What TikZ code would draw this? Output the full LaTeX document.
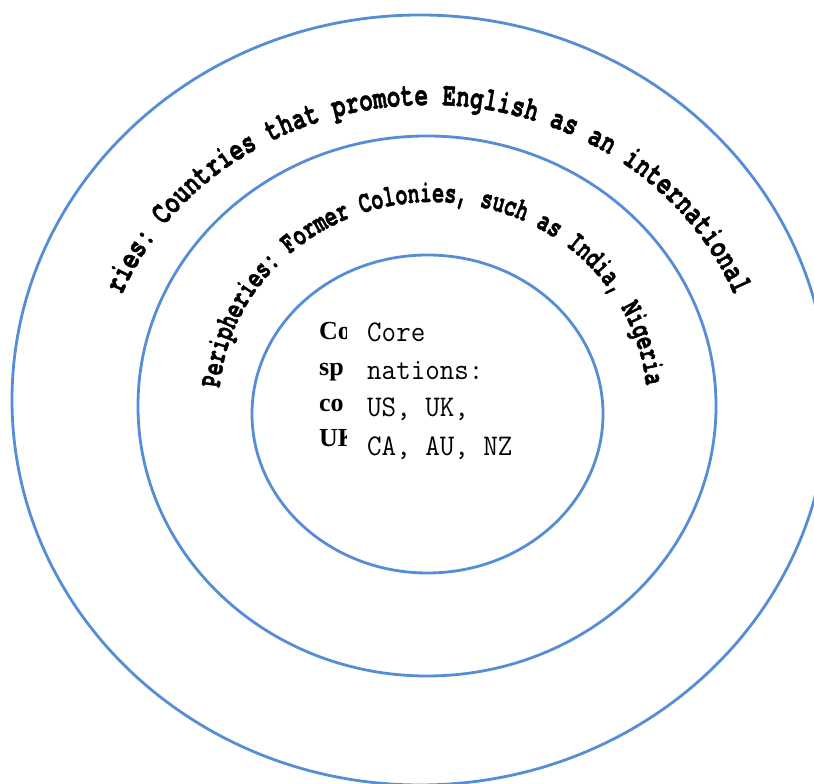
\documentclass[tikz,border=0pt]{standalone}
\usepackage{fontspec}
\setmainfont{Liberation Serif}
\newfontfamily\arcfontA{texgyrecursor-bold.otf}[FakeStretch=0.68,FakeBold=1.2]
\newfontfamily\arcfontB{texgyrecursor-bold.otf}[FakeStretch=0.64,FakeBold=1.2]
\newfontfamily\corefont{Latin Modern Mono}[FakeStretch=0.94]
\usetikzlibrary{decorations.text}
\definecolor{ringblue}{RGB}{86,142,213}
\tikzset{
  ring/.style={draw=ringblue, line width=2.8pt},
  coretext/.style={anchor=base west, inner sep=0pt, font=\corefont\fontsize{30pt}{30pt}\selectfont},
  hiddentext/.style={anchor=base west, inner sep=0pt, font=\bfseries\fontsize{26pt}{26pt}\selectfont},
}
\begin{document}
\begin{tikzpicture}[x=1pt,y=1pt]
\useasboundingbox (0,0) rectangle (814,784);
\clip (0,0) rectangle (814,784);
\fill[white] (0,0) rectangle (814,784);
% rings
\coordinate (oc) at (420,384);
\coordinate (mc) at (427,378);
\coordinate (ic) at (427.5,370);
\draw[ring] (oc) ellipse [x radius=408pt, y radius=385pt];
\draw[ring] (mc) ellipse [x radius=289pt, y radius=270pt];
\draw[ring] (ic) ellipse [x radius=175.5pt, y radius=159pt];
% curved labels
\path[decorate, decoration={text along path,
   text={|\arcfontA\fontsize{33pt}{33pt}\selectfont|ries: Countries that promote English as an international},
   text align={fit to path}}]
  ([shift={(428,379)}]158.5:329pt and 300pt) arc[start angle=158.5, end angle=21.5, x radius=329pt, y radius=300pt];
\path[decorate, decoration={text along path,
   text={|\arcfontB\fontsize{31pt}{31pt}\selectfont|Peripheries: Former Colonies, such as India, Nigeria},
   text align={fit to path}}]
  ([shift={(433,379)}]175.2:214pt and 203pt) arc[start angle=175.2, end angle=5.5, x radius=214pt, y radius=203pt];
% hidden bold text, mostly covered
\begin{scope}
  \clip (300,300) rectangle (346.5,470);
  \node[hiddentext] (h1) at (319,444) {Co};
  \node[hiddentext] (h2) at (319,408) {sp};
  \node[hiddentext] (h3) at (319,372) {co};
  \node[hiddentext] (h4) at (319,337) {UK};
\end{scope}
% core text
\node[coretext] (c1) at (367,442) {Core};
\node[coretext] (c2) at (367,404) {nations:};
\node[coretext] (c3) at (367,367) {US, UK,};
\node[coretext] (c4) at (367,328) {CA, AU, NZ};
\end{tikzpicture}
\end{document}
